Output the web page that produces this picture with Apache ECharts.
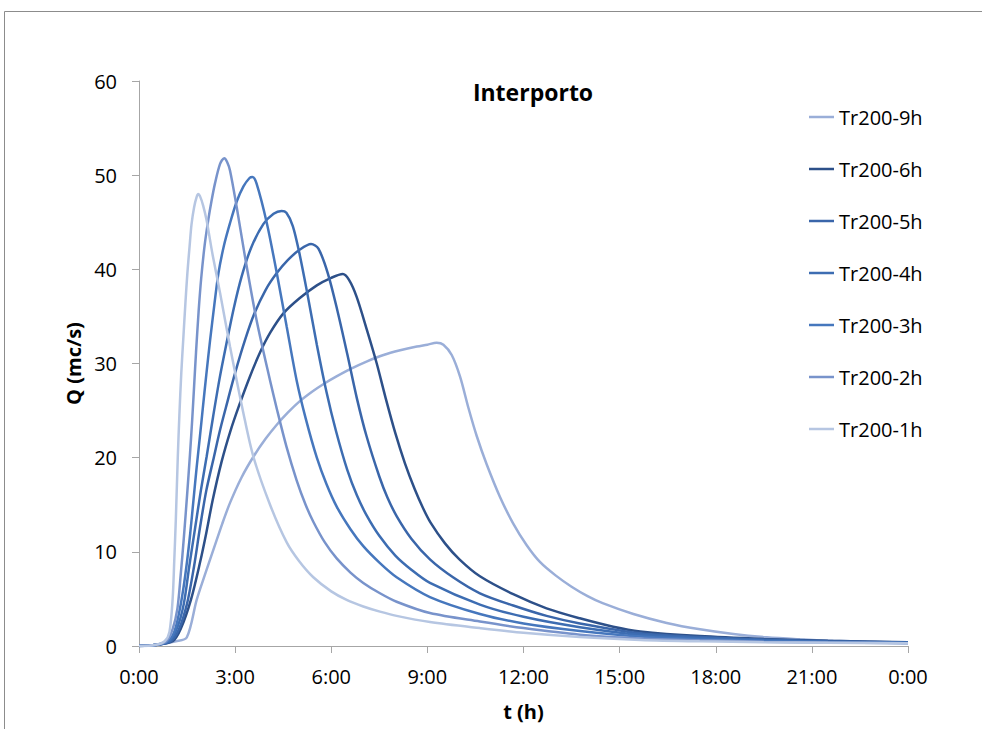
<!DOCTYPE html>
<html>
<head>
<meta charset="utf-8">
<title>Interporto</title>
<script src="https://cdn.jsdelivr.net/npm/echarts@6/dist/echarts.min.js"></script>
<style>
  html, body { margin: 0; padding: 0; background: #fff; }
  #chart { width: 982px; height: 729px; }
</style>
</head>
<body>
<div id="chart"></div>
<script>
// Hydrographs for the Interporto section, return period 200 years,
// one curve per rainfall duration. Times in hours, discharge in m3/s.
const seriesNames = ['Tr200-9h', 'Tr200-6h', 'Tr200-5h', 'Tr200-4h', 'Tr200-3h', 'Tr200-2h', 'Tr200-1h'];
const seriesColors = ['#9aaed8', '#2d5089', '#3a66aa', '#3d6db2', '#4677bd', '#7893cb', '#b6c6e2'];

const t1h = [0, 0.5, 0.8, 0.95, 1.05, 1.1, 1.15, 1.21, 1.26, 1.32, 1.38, 1.45, 1.51, 1.58, 1.64, 1.72, 1.8, 1.85, 1.9, 2.0, 2.11, 2.3, 2.53, 2.84, 3.26, 3.57, 4.09, 4.61, 5.0, 5.44, 6.0, 6.48, 7.0, 7.52, 8.04, 9.08, 10.64, 12, 13.76, 15.64, 17.5, 19.5, 21.5, 24];
const q1h = [0, 0.1, 0.5, 1.5, 5, 9, 13.5, 20, 24.5, 29, 32.5, 36.5, 39.6, 42.5, 44.8, 46.6, 47.7, 48, 47.8, 46.8, 45.2, 41.5, 37.5, 31.8, 24.7, 20.1, 15.0, 11.0, 9.0, 7.3, 5.8, 4.9, 4.2, 3.65, 3.2, 2.55, 1.9, 1.4, 0.95, 0.65, 0.5, 0.4, 0.34, 0.28];

const t2h = [0, 0.5, 0.85, 1.05, 1.2, 1.3, 1.4, 1.5, 1.59, 1.66, 1.72, 1.78, 1.86, 1.94, 2.05, 2.16, 2.26, 2.37, 2.53, 2.66, 2.75, 2.84, 3.05, 3.31, 3.67, 4.09, 4.3, 4.6, 4.92, 5.2, 5.44, 5.8, 6.17, 6.6, 7.0, 7.52, 8.04, 9.08, 10.64, 12, 13.76, 15.64, 17.5, 19.5, 21.5, 24];
const q2h = [0, 0.1, 0.5, 1.8, 4, 7.5, 11.5, 16, 20.3, 24, 27.6, 31.2, 35.5, 39.0, 42.6, 45.2, 47.2, 49.1, 51.2, 51.8, 51.4, 50.5, 46.6, 41.3, 34.6, 28.2, 25.2, 21.2, 17.6, 15.0, 13.2, 11.0, 9.3, 7.8, 6.7, 5.6, 4.7, 3.5, 2.6, 1.9, 1.2, 0.8, 0.6, 0.46, 0.37, 0.3];

const t3h = [0, 0.5, 0.9, 1.1, 1.25, 1.38, 1.5, 1.6, 1.7, 1.8, 1.9, 1.99, 2.1, 2.22, 2.35, 2.48, 2.65, 2.84, 3.05, 3.26, 3.45, 3.54, 3.67, 3.99, 4.3, 4.61, 4.92, 5.2, 5.55, 5.85, 6.17, 6.6, 7.0, 7.52, 8.04, 9.08, 10.64, 12, 13.76, 15.64, 17.5, 19.5, 21.5, 24];
const q3h = [0, 0.1, 0.5, 1.5, 3.5, 6, 9, 12, 15.5, 19, 22.2, 25.2, 28.8, 32.5, 36.2, 39.6, 42.5, 44.9, 47.2, 48.8, 49.7, 49.8, 49.1, 44.9, 39.6, 33.9, 28.2, 24.2, 20.0, 17.2, 14.8, 12.4, 10.6, 8.8, 7.3, 5.2, 3.4, 2.4, 1.6, 1.0, 0.72, 0.54, 0.42, 0.32];

const t4h = [0, 0.5, 0.95, 1.2, 1.4, 1.57, 1.75, 1.93, 2.11, 2.31, 2.52, 2.74, 2.96, 3.2, 3.5, 3.88, 4.2, 4.45, 4.6, 4.8, 5.0, 5.25, 5.55, 5.85, 6.15, 6.5, 6.8, 7.1, 7.5, 8.0, 8.5, 9.08, 10.64, 12, 13.76, 15.64, 17.5, 19.5, 21.5, 24];
const q4h = [0, 0.1, 0.5, 2, 4.5, 8.5, 12.5, 16.5, 20.1, 24.3, 28.5, 32.3, 35.9, 39.2, 42.3, 44.8, 45.9, 46.2, 46, 44.6, 41.8, 37.5, 32, 27, 22.8, 18.7, 16.0, 13.9, 11.7, 9.6, 8.1, 6.7, 4.4, 3.1, 2.0, 1.2, 0.85, 0.62, 0.46, 0.34];

const t5h = [0, 0.5, 1.0, 1.25, 1.5, 1.72, 1.9, 2.1, 2.34, 2.52, 2.71, 3.0, 3.31, 3.6, 3.95, 4.3, 4.65, 5.02, 5.37, 5.6, 5.9, 6.2, 6.5, 6.8, 7.1, 7.5, 7.75, 8.04, 8.5, 9.08, 9.8, 10.64, 11.68, 12.72, 13.76, 15.64, 17.5, 19.5, 21.5, 24];
const q5h = [0, 0.1, 0.5, 1.8, 4.5, 8.5, 12.5, 16.5, 20.1, 22.8, 25.3, 29, 32.5, 35.3, 37.8, 39.6, 41, 42.1, 42.7, 42.2, 39.5, 35.5, 31, 26.3, 22.3, 18, 15.8, 13.8, 11.4, 9.2, 7.3, 5.6, 4.3, 3.2, 2.4, 1.35, 0.95, 0.68, 0.5, 0.37];

const t6h = [0, 0.5, 1.05, 1.3, 1.62, 1.92, 2.1, 2.3, 2.58, 2.85, 3.12, 3.46, 3.78, 4.1, 4.5, 5.0, 5.55, 6.0, 6.36, 6.55, 6.79, 7.11, 7.42, 7.7, 8.0, 8.3, 8.6, 8.87, 9.1, 9.55, 10.0, 10.64, 11.68, 12.72, 13.76, 14.8, 15.64, 17.5, 19.5, 21.5, 24];
const q6h = [0, 0.1, 0.5, 1.8, 4.9, 9.1, 12, 15.5, 19.6, 22.8, 25.5, 28.6, 31.2, 33.3, 35.3, 36.9, 38.3, 39.1, 39.5, 38.9, 37.1, 33.6, 30, 26.3, 22.6, 19.4, 16.7, 14.6, 13.1, 10.9, 9.2, 7.4, 5.5, 4.0, 2.94, 2.05, 1.55, 1.05, 0.75, 0.55, 0.4];

const t9h = [0, 0.5, 1.15, 1.49, 1.8, 2.05, 2.32, 2.6, 2.84, 3.2, 3.57, 3.95, 4.3, 4.65, 5.02, 5.4, 5.75, 6.15, 6.59, 7.1, 7.63, 8.15, 8.67, 9.0, 9.29, 9.5, 9.76, 10.02, 10.28, 10.54, 10.85, 11.27, 11.68, 12.1, 12.52, 13.0, 13.5, 14.0, 14.47, 15.43, 16.47, 17.51, 18.55, 19.59, 20.63, 21.67, 22.71, 24];
const q9h = [0, 0.1, 0.5, 0.9, 4.9, 7.5, 10.2, 13.0, 15.2, 17.9, 20.1, 22.0, 23.5, 24.8, 26.0, 27.0, 27.8, 28.6, 29.4, 30.2, 30.9, 31.4, 31.8, 32.0, 32.2, 32.0, 30.9, 28.6, 25.3, 22.3, 19.3, 15.8, 13.0, 10.7, 8.9, 7.5, 6.3, 5.3, 4.55, 3.4, 2.45, 1.77, 1.27, 0.92, 0.71, 0.55, 0.45, 0.36];

const seriesTimes = [t9h, t6h, t5h, t4h, t3h, t2h, t1h];
const seriesFlows = [q9h, q6h, q5h, q4h, q3h, q2h, q1h];

const FONT = '"Open Sans", "Liberation Sans", sans-serif';
const AXIS_GREY = '#a6a6a6';

const chart = echarts.init(document.getElementById('chart'), null, { renderer: 'svg' });

const series = seriesNames.map((name, k) => ({
  name: name,
  type: 'line',
  symbol: 'none',
  smooth: 0.3,
  data: seriesTimes[k].map((t, i) => [t, seriesFlows[k][i]]),
  lineStyle: { color: seriesColors[k], width: 2.5 },
  itemStyle: { color: seriesColors[k] },
  emphasis: { disabled: true }
}));

chart.setOption({
  animation: false,
  backgroundColor: '#ffffff',
  textStyle: { fontFamily: FONT, color: '#000' },
  grid: { left: 139, right: 74, top: 81, bottom: 83 },
  legend: {
    orient: 'vertical',
    left: 804,
    top: 101,
    icon: 'rect',
    itemWidth: 25,
    itemHeight: 2.5,
    itemGap: 30,
    data: seriesNames,
    textStyle: { fontFamily: FONT, fontSize: 20, lineHeight: 22, color: '#000' }
  },
  xAxis: {
    type: 'value',
    min: 0,
    max: 24,
    interval: 3,
    name: 't (h)',
    nameLocation: 'middle',
    nameGap: 55,
    nameTextStyle: { fontFamily: FONT, fontWeight: 'bold', fontSize: 20, color: '#000' },
    axisLine: { show: true, lineStyle: { color: AXIS_GREY, width: 1 } },
    axisTick: { show: true, length: 7, lineStyle: { color: AXIS_GREY } },
    axisLabel: {
      color: '#000',
      fontFamily: FONT,
      fontSize: 20,
      margin: 20,
      formatter: v => (v % 24) + ':00'
    },
    splitLine: { show: false }
  },
  yAxis: {
    type: 'value',
    min: 0,
    max: 60,
    interval: 10,
    name: 'Q (mc/s)',
    nameLocation: 'middle',
    nameGap: 54,
    nameRotate: 90,
    nameTextStyle: { fontFamily: FONT, fontWeight: 'bold', fontSize: 20, color: '#000' },
    axisLine: { show: true, lineStyle: { color: AXIS_GREY, width: 1 } },
    axisTick: { show: true, length: 7, lineStyle: { color: AXIS_GREY } },
    axisLabel: { color: '#000', fontFamily: FONT, fontSize: 20, margin: 22 },
    splitLine: { show: false }
  },
  graphic: [
    {
      type: 'rect',
      silent: true,
      shape: { x: 4.5, y: 11.5, width: 1200, height: 1000 },
      style: { fill: 'none', stroke: '#8c8c8c', lineWidth: 1 }
    },
    {
      type: 'text',
      silent: true,
      x: 533,
      y: 92,
      style: {
        text: 'Interporto',
        font: 'bold 23px ' + FONT,
        fill: '#000',
        textAlign: 'center',
        textVerticalAlign: 'middle'
      }
    }
  ],
  series: series
});
</script>
</body>
</html>
